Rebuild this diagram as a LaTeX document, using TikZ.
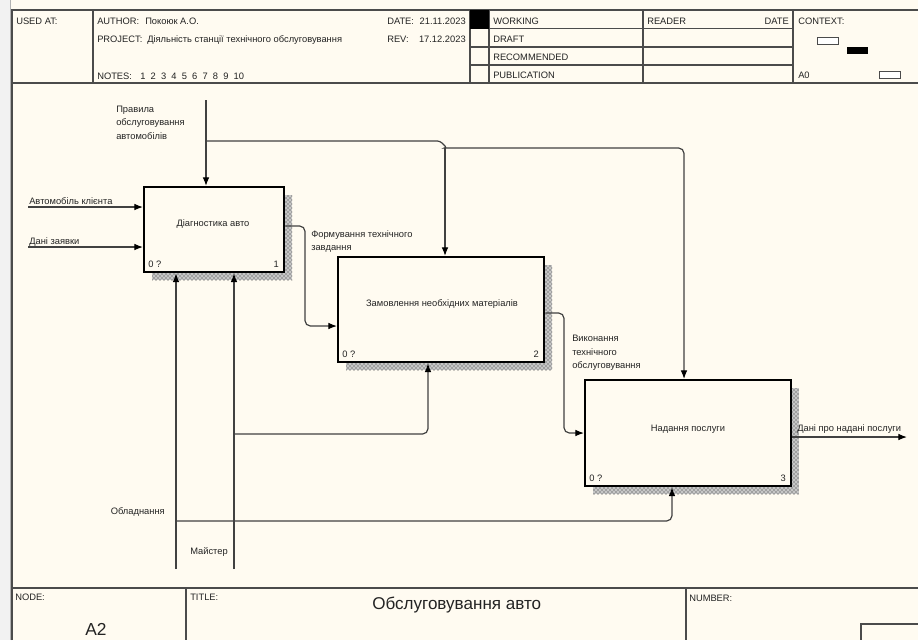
\documentclass[tikz,border=0pt]{standalone}
\usepackage{fontspec}
\setmainfont{Liberation Sans}
\usetikzlibrary{arrows.meta,patterns,calc}
\definecolor{bgc}{RGB}{255,251,241}
\definecolor{ink}{RGB}{35,35,35}
\definecolor{lnc}{RGB}{65,65,65}
\definecolor{frm}{RGB}{75,75,75}
\begin{document}
\begin{tikzpicture}[x=0.75pt,y=-0.75pt,
  t/.style={font=\fontsize{7}{8.4}\selectfont,text=ink,inner sep=0pt,anchor=base west},
  tr/.style={t,anchor=base east},
  tc/.style={t,anchor=base},
  big/.style={font=\fontsize{12.8}{15}\selectfont,text=ink,inner sep=0pt,anchor=base west},
  frame/.style={draw=frm,line width=1.1pt},
  ln/.style={draw=lnc,line width=0.9pt},
  arr/.style={ln,-{Latex[length=6.5pt,width=5pt,color=black]}},
  box/.style={draw=black,line width=1.8pt,fill=bgc,inner sep=0pt,anchor=north west},
  shadebase/.style={fill=gray!45},
  shade/.style={pattern=crosshatch dots,pattern color=black!85}]
\useasboundingbox (0,0) rectangle (918,640);
\fill[bgc] (0,0) rectangle (918,640);
\fill[gray!10] (0,0) rectangle (10,640);
\draw[gray!60,line width=0.8pt] (10.5,0) -- (10.5,640);

% ---------- header frame ----------
\draw[frame] (12,640) -- (12,10) -- (918,10);
\draw[frame] (12,83) -- (918,83);
\draw[frame] (93,10) -- (93,83);
\draw[frame] (470,10) -- (470,83);
\draw[frame] (489,10) -- (489,83);
\draw[frame] (643,10) -- (643,83);
\draw[frame] (793,10) -- (793,83);
\draw[frame] (470,28.5) -- (793,28.5);
\draw[frame] (470,47) -- (793,47);
\draw[frame] (470,65) -- (793,65);
\fill[black] (470,10) rectangle (489,28.5);
\draw[frm,line width=0.7pt,fill=white] (817,37) rectangle (838,44);
\fill[black] (847,47) rectangle (868,54);
\draw[frm,line width=0.7pt,fill=white] (879,71) rectangle (900,78);

\node[t] (hused) at (16,24) {USED AT:};
\node[t] (hauth) at (97,24) {AUTHOR:};
\node[t] (hauthv) at (145,24) {Покоюк А.О.};
\node[t] (hproj) at (97,42.6) {PROJECT:};
\node[t] (hprojv) at (147,42.6) {Діяльність станції технічного обслуговування};
\node[t] (hnotes) at (97,79.5) {NOTES:};
\node[t] (hnotesv) at (140,79.5) {1\ \ 2\ \ 3\ \ 4\ \ 5\ \ 6\ \ 7\ \ 8\ \ 9\ \ 10};
\node[t] (hdate) at (387,24) {DATE:};
\node[tr] (hdatev) at (466,24) {21.11.2023};
\node[t] (hrev) at (387,42.6) {REV:};
\node[tr] (hrevv) at (466,42.6) {17.12.2023};
\node[t] (hwork) at (493,24) {WORKING};
\node[t] (hdraft) at (493,42.6) {DRAFT};
\node[t] (hrec) at (493,60.7) {RECOMMENDED};
\node[t] (hpub) at (493,78.4) {PUBLICATION};
\node[t] (hread) at (647,24) {READER};
\node[tr] (hrdate) at (789,24) {DATE};
\node[t] (hctx) at (798,24) {CONTEXT:};
\node[t] (ha0) at (798,78.4) {A0};

% ---------- footer ----------
\draw[frame] (12,588) -- (918,588);
\draw[frame] (186,588) -- (186,640);
\draw[frame] (686,588) -- (686,640);
\draw[frame] (918,624) -- (861,624) -- (861,640);
\node[t] (fnode) at (15,600) {NODE:};
\node[t] (ftitle) at (190,600) {TITLE:};
\node[t] (fnum) at (689,601.5) {NUMBER:};
\node[big] (ftitlev) at (372,609) {Обслуговування авто};
\node[big,font=\fontsize{13}{15}\selectfont,anchor=base] (fa2) at (96,635) {A2};

% ---------- boxes ----------
\fill[shadebase] (152,195) rectangle (292,280);
\fill[shadebase] (346,265) rectangle (552,370);
\fill[shadebase] (593,388) rectangle (799,494);
\fill[shade] (152,195) rectangle (292,280);
\fill[shade] (346,265) rectangle (552,370);
\fill[shade] (593,388) rectangle (799,494);
\node[box,minimum width=105pt,minimum height=63.75pt] (b1) at (143,186) {};
\node[box,minimum width=154.5pt,minimum height=78.75pt] (b2) at (337,256) {};
\node[box,minimum width=154.5pt,minimum height=79.5pt] (b3) at (584,379) {};

\node[tc] (b1t) at (213,226.5) {Діагностика авто};
\node[tc] (b2t) at (442,306) {Замовлення необхідних матеріалів};
\node[tc] (b3t) at (688,431) {Надання послуги};
\node[t] (b1a) at (148,267) {0 ?};
\node[tr] (b1n) at (279,267) {1};
\node[t] (b2a) at (342,357.5) {0 ?};
\node[tr] (b2n) at (539,357.5) {2};
\node[t] (b3a) at (589,481.5) {0 ?};
\node[tr] (b3n) at (786,481.5) {3};

% ---------- arrows ----------
% inputs
\coordinate (i1) at (28,207);
\coordinate (i2) at (28,247);
\draw[arr] (i1) -- (i1 -| b1.west);
\draw[arr] (i2) -- (i2 -| b1.west);
\node[t] (i1t) at (29,204) {Автомобіль клієнта};
\node[t] (i2t) at (29,244) {Дані заявки};

% control
\coordinate (c0) at (206,100);
\coordinate (cb) at (206,141);
\coordinate (c2) at (445,148);
\coordinate (c3) at (684,148);
\draw[arr] (c0) -- (c0 |- b1.north);
\draw[ln,rounded corners=2pt] (cb) -- (440,141) -- (447,148) -- (c2);
\draw[arr] (c2) -- (c2 |- b2.north);
\draw[arr,rounded corners=4pt] (c2) -- (c3) -- (c3 |- b3.north);
\node[t] (ct1) at (116,112) {Правила};
\node[t] (ct2) at (116,125.5) {обслуговування};
\node[t] (ct3) at (116,139) {автомобілів};

% outputs
\coordinate (o1) at (305,226);
\coordinate (o1b) at (305,326);
\draw[arr,rounded corners=4pt] (b1.east |- o1) -- (o1) -- (o1b) -- (o1b -| b2.west);
\node[t] (o1t1) at (311,237) {Формування технічного};
\node[t] (o1t2) at (311,250) {завдання};

\coordinate (o2) at (564,313);
\coordinate (o2b) at (564,433);
\draw[arr,rounded corners=4pt] (b2.east |- o2) -- (o2) -- (o2b) -- (o2b -| b3.west);
\node[t] (o2t1) at (572,341) {Виконання};
\node[t] (o2t2) at (572,355) {технічного};
\node[t] (o2t3) at (572,368) {обслуговування};

\coordinate (o3) at (907,437);
\draw[arr] (b3.east |- o3) -- (o3);
\node[t] (o3t) at (797,431) {Дані про надані послуги};

% mechanisms
\coordinate (m1) at (176,569);
\coordinate (m2) at (234,569);
\coordinate (m1b) at (176,521);
\coordinate (m3) at (672,521);
\coordinate (m2b) at (234,434);
\coordinate (m4) at (428,434);
\draw[arr] (m1) -- (m1 |- b1.south);
\draw[arr] (m2) -- (m2 |- b1.south);
\draw[arr,rounded corners=4pt] (m1b) -- (m3) -- (m3 |- b3.south);
\draw[arr,rounded corners=4pt] (m2b) -- (m4) -- (m4 |- b2.south);
\node[tr] (m1t) at (165,514) {Обладнання};
\node[t] (m2t) at (190,554) {Майстер};
\end{tikzpicture}
\end{document}
